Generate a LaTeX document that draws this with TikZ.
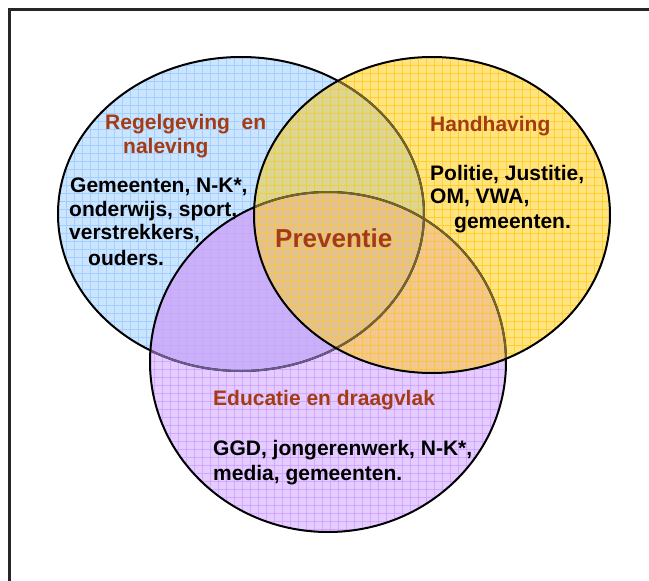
\documentclass[tikz,border=0pt]{standalone}
\usepackage{fontspec}
\setmainfont{Liberation Sans}
\definecolor{bluefill}{HTML}{CCE5FF}
\definecolor{bluegrid}{HTML}{A3CFFF}
\definecolor{yelfill}{HTML}{FFE47F}
\definecolor{yelgrid}{HTML}{FFCC22}
\definecolor{purfill}{HTML}{E5CCFF}
\definecolor{purgrid}{HTML}{CFA0FF}
\definecolor{byfill}{HTML}{DCD690}
\definecolor{bpfill}{HTML}{C9B0F7}
\definecolor{ypfill}{HTML}{F4C88C}
\definecolor{bypfill}{HTML}{E4C290}
\definecolor{fadeY}{HTML}{75652A}
\definecolor{fadeP}{HTML}{6A5A8C}
\definecolor{titlecol}{HTML}{A33C14}
\newcommand\mygrid[1]{%
  \foreach \g in {2,10,...,650}{\draw[#1, line width=0.6pt] (\g,0) -- (\g,581);}%
  \foreach \g in {1,9,...,577}{\draw[#1, line width=0.6pt] (0,\g) -- (649,\g);}%
}
\begin{document}
\begin{tikzpicture}[x=1pt,y=-1pt,
  blueE/.style={insert path={(241,214) ellipse [x radius=183pt, y radius=157pt]}},
  yelE/.style={insert path={(432,215) ellipse [x radius=178pt, y radius=158pt]}},
  purE/.style={insert path={(328,362) ellipse [x radius=178pt, y radius=170pt]}},
  outline/.style={line width=2pt, draw=black},
  lbl/.style={anchor=base west, inner sep=0pt, font=\bfseries\fontsize{21}{24}\selectfont},
  ttl/.style={lbl, text=titlecol},
]
\useasboundingbox (0,0) rectangle (649,581);
\fill[white] (0,0) rectangle (649,581);
% base fills
\fill[bluefill, blueE];
\fill[purfill, purE];
\fill[yelfill, yelE];
\begin{scope}\path[clip, blueE]; \fill[byfill, yelE]; \end{scope}
\begin{scope}\path[clip, blueE]; \fill[bpfill, purE]; \end{scope}
\begin{scope}\path[clip, yelE]; \fill[ypfill, purE]; \end{scope}
\begin{scope}\path[clip, blueE]; \path[clip, yelE]; \fill[bypfill, purE]; \end{scope}
% grids
\begin{scope}\path[clip, blueE]; \mygrid{bluegrid} \end{scope}
\begin{scope}\path[clip, purE]; \mygrid{purgrid, opacity=0.8} \end{scope}
\begin{scope}\path[clip, yelE]; \mygrid{yelgrid, opacity=0.8} \end{scope}
% outlines
\draw[outline, blueE];
\begin{scope}\path[clip, purE]; \draw[line width=2pt, draw=fadeP, blueE]; \end{scope}
\begin{scope}\path[clip, yelE]; \draw[line width=2pt, draw=fadeY, blueE]; \end{scope}
\draw[outline, purE];
\begin{scope}\path[clip, yelE]; \draw[line width=2pt, draw=fadeY, purE]; \end{scope}
\draw[outline, yelE];
% frame
\draw[line width=2.5pt, draw=black!85] (9.7,9.7) rectangle (700,700);
% texts
\node[ttl] (t1a) at (105,129) {Regelgeving\ \ en};
\node[ttl] (t1b) at (123,153) {naleving};
\node[lbl] (b1a) at (70,192) {Gemeenten, N-K*,};
\node[lbl] (b1b) at (69,216) {onderwijs, sport,};
\node[lbl] (b1c) at (69,239) {verstrekkers,};
\node[lbl] (b1d) at (88,265) {ouders.};
\node[ttl] (t2) at (430,131) {Handhaving};
\node[lbl] (b2a) at (430,180) {Politie, Justitie,};
\node[lbl] (b2b) at (430,203) {OM, VWA,};
\node[lbl] (b2c) at (454,228) {gemeenten.};
\node[anchor=base west, inner sep=0pt, text=titlecol, font=\bfseries\fontsize{26}{30}\selectfont] (prev) at (275,247) {Preventie};
\node[ttl] (t3) at (213,405) {Educatie en draagvlak};
\node[lbl] (b3a) at (213,455) {GGD, jongerenwerk, N-K*,};
\node[lbl] (b3b) at (213,480) {media, gemeenten.};
\end{tikzpicture}
\end{document}
